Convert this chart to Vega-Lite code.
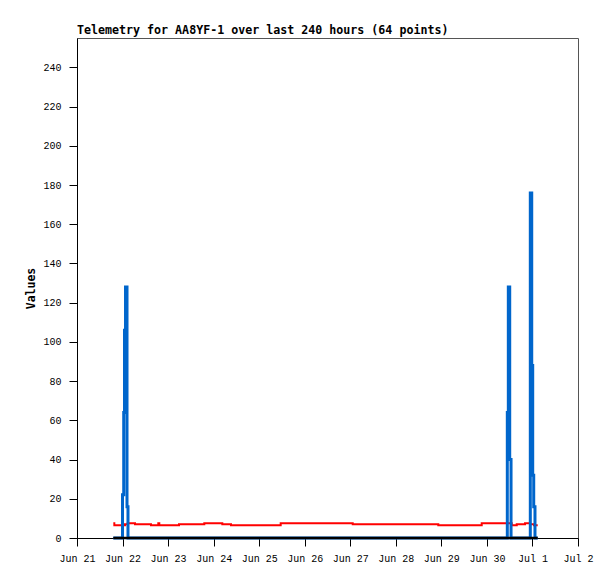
{
  "$schema": "https://vega.github.io/schema/vega-lite/v6.json",
  "autosize": {"type": "none"},
  "width": 501,
  "height": 500,
  "padding": {"left": 77, "top": 38, "right": 37, "bottom": 41},
  "background": "white",
  "title": {
    "text": "Telemetry for AA8YF-1 over last 240 hours (64 points)",
    "anchor": "start",
    "frame": "group",
    "font": "DejaVu Sans Mono",
    "fontSize": 11.65,
    "fontWeight": "bold",
    "color": "#000000",
    "offset": 1
  },
  "config": {
    "view": {"stroke": "#555555", "strokeWidth": 1},
    "axis": {
      "grid": false,
      "domainColor": "#000000",
      "tickColor": "#000000",
      "labelColor": "#000000",
      "labelFont": "Liberation Mono",
      "labelFontSize": 10,
      "titleFont": "DejaVu Sans Mono",
      "titleFontWeight": "bold",
      "titleFontSize": 11.5,
      "titleColor": "#000000"
    }
  },
  "datasets": {
    "red": [
      {"t": "2023-06-21T19:08:00Z", "value": 7.5},
      {"t": "2023-06-21T19:40:00Z", "value": 6.5},
      {"t": "2023-06-22T01:17:00Z", "value": 7.0},
      {"t": "2023-06-22T02:43:00Z", "value": 7.5},
      {"t": "2023-06-22T06:34:00Z", "value": 7.0},
      {"t": "2023-06-22T14:59:00Z", "value": 6.5},
      {"t": "2023-06-22T18:50:00Z", "value": 7.5},
      {"t": "2023-06-22T19:22:00Z", "value": 6.5},
      {"t": "2023-06-23T05:45:00Z", "value": 7.0},
      {"t": "2023-06-23T19:05:00Z", "value": 7.5},
      {"t": "2023-06-24T04:34:00Z", "value": 7.0},
      {"t": "2023-06-24T09:09:00Z", "value": 6.5},
      {"t": "2023-06-25T11:20:00Z", "value": 7.5},
      {"t": "2023-06-27T01:17:00Z", "value": 7.0},
      {"t": "2023-06-28T22:23:00Z", "value": 6.5},
      {"t": "2023-06-29T21:16:00Z", "value": 7.5},
      {"t": "2023-06-30T13:04:00Z", "value": 6.5},
      {"t": "2023-06-30T15:43:00Z", "value": 7.0},
      {"t": "2023-06-30T20:05:00Z", "value": 7.5},
      {"t": "2023-06-30T22:43:00Z", "value": 7.0},
      {"t": "2023-07-01T00:49:00Z", "value": 6.5},
      {"t": "2023-07-01T02:46:00Z", "value": 6.5}
    ],
    "blue": [
      {"t": "2023-06-21T19:08:00Z", "value": 0},
      {"t": "2023-06-21T23:59:00Z", "value": 22},
      {"t": "2023-06-22T00:37:00Z", "value": 64},
      {"t": "2023-06-22T01:02:00Z", "value": 106},
      {"t": "2023-06-22T01:34:00Z", "value": 128},
      {"t": "2023-06-22T02:21:00Z", "value": 16},
      {"t": "2023-06-22T02:52:00Z", "value": 0},
      {"t": "2023-06-30T10:45:00Z", "value": 64},
      {"t": "2023-06-30T11:17:00Z", "value": 128},
      {"t": "2023-06-30T12:01:00Z", "value": 40},
      {"t": "2023-06-30T12:43:00Z", "value": 0},
      {"t": "2023-06-30T22:52:00Z", "value": 176},
      {"t": "2023-06-30T23:37:00Z", "value": 88},
      {"t": "2023-07-01T00:08:00Z", "value": 32},
      {"t": "2023-07-01T00:40:00Z", "value": 16},
      {"t": "2023-07-01T01:20:00Z", "value": 0},
      {"t": "2023-07-01T02:46:00Z", "value": 0}
    ],
    "black": [
      {"t": "2023-06-21T19:08:00Z", "value": 0},
      {"t": "2023-06-24T09:09:00Z", "value": 0},
      {"t": "2023-06-27T01:17:00Z", "value": 0},
      {"t": "2023-06-29T21:16:00Z", "value": 0},
      {"t": "2023-07-01T02:46:00Z", "value": 0}
    ]
  },
  "encoding": {
    "x": {
      "field": "t",
      "type": "temporal",
      "scale": {
        "type": "utc",
        "domain": [
          {"year": 2023, "month": 6, "date": 21, "utc": true},
          {"year": 2023, "month": 7, "date": 2, "utc": true}
        ],
        "nice": false
      },
      "axis": {
        "title": null,
        "values": [
          {"year": 2023, "month": 6, "date": 21, "utc": true},
          {"year": 2023, "month": 6, "date": 22, "utc": true},
          {"year": 2023, "month": 6, "date": 23, "utc": true},
          {"year": 2023, "month": 6, "date": 24, "utc": true},
          {"year": 2023, "month": 6, "date": 25, "utc": true},
          {"year": 2023, "month": 6, "date": 26, "utc": true},
          {"year": 2023, "month": 6, "date": 27, "utc": true},
          {"year": 2023, "month": 6, "date": 28, "utc": true},
          {"year": 2023, "month": 6, "date": 29, "utc": true},
          {"year": 2023, "month": 6, "date": 30, "utc": true},
          {"year": 2023, "month": 7, "date": 1, "utc": true},
          {"year": 2023, "month": 7, "date": 2, "utc": true}
        ],
        "labelExpr": "utcFormat(datum.value, '%b %-d')",
        "tickSize": 8,
        "labelPadding": 7,
        "labelFlush": false,
        "labelOverlap": false
      }
    },
    "y": {
      "field": "value",
      "type": "quantitative",
      "scale": {"domain": [0, 255], "nice": false, "zero": true},
      "axis": {
        "title": "Values",
        "values": [0, 20, 40, 60, 80, 100, 120, 140, 160, 180, 200, 220, 240],
        "tickSize": 8,
        "labelPadding": 8,
        "titlePadding": 6
      }
    }
  },
  "layer": [
    {
      "data": {"name": "red"},
      "mark": {"type": "line", "interpolate": "step-after", "color": "#ff0000", "strokeWidth": 2}
    },
    {
      "data": {"name": "blue"},
      "mark": {"type": "line", "interpolate": "step-after", "color": "#0066cc", "strokeWidth": 3}
    },
    {
      "data": {"name": "black"},
      "mark": {"type": "line", "interpolate": "step-after", "color": "#000000", "strokeWidth": 2.5}
    }
  ]
}
